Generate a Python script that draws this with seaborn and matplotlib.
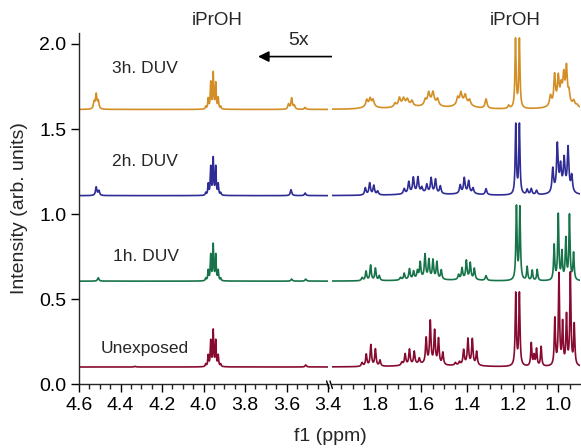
import numpy as np
import pandas as pd
import matplotlib
matplotlib.use("Agg")
import matplotlib.pyplot as plt
from matplotlib.lines import Line2D
import seaborn as sns

# ---------------- data ----------------
series_names = ["Unexposed", "1h. DUV", "2h. DUV", "3h. DUV"]
series_colors = ["#870b30", "#17744a", "#2f2c95", "#d38f26"]
offsets = [0.100, 0.605, 1.108, 1.615]

# peaks: (ppm, height above baseline, half-width) ; left region shown 5x
unexposed_peaks = [
    (4.330, 0.004, 0.004),
    (3.989, 0.015, 0.0025), (3.977, 0.065, 0.0025), (3.965, 0.150, 0.0025),
    (3.953, 0.210, 0.0025), (3.941, 0.150, 0.0025), (3.929, 0.065, 0.0025),
    (3.917, 0.015, 0.0025), (3.507, 0.012, 0.004),
    (1.858, 0.022, 0.004), (1.840, 0.070, 0.0035), (1.820, 0.125, 0.0035),
    (1.800, 0.100, 0.0035), (1.780, 0.035, 0.0035),
    (1.684, 0.018, 0.004), (1.670, 0.065, 0.0035), (1.651, 0.090, 0.0035),
    (1.630, 0.075, 0.0035), (1.608, 0.032, 0.0035),
    (1.578, 0.150, 0.0035), (1.560, 0.250, 0.0035), (1.541, 0.195, 0.0035),
    (1.524, 0.150, 0.0035), (1.505, 0.072, 0.0035),
    (1.450, 0.015, 0.004), (1.432, 0.018, 0.0035), (1.414, 0.085, 0.0035),
    (1.395, 0.150, 0.0035), (1.376, 0.150, 0.0035), (1.357, 0.080, 0.0035),
    (1.186, 0.425, 0.003), (1.170, 0.425, 0.003),
    (1.118, 0.135, 0.003), (1.106, 0.060, 0.003), (1.095, 0.100, 0.003),
    (1.075, 0.115, 0.003),
    (1.015, 0.275, 0.003), (0.997, 0.535, 0.003), (0.981, 0.245, 0.003),
    (0.964, 0.290, 0.003), (0.947, 0.540, 0.003), (0.930, 0.240, 0.003),
    (1.600, 0.015, 0.080), (1.400, 0.010, 0.050),
]
h1_peaks = [
    (4.507, 0.020, 0.004),
    (3.989, 0.015, 0.0025), (3.977, 0.060, 0.0025), (3.965, 0.150, 0.0025),
    (3.953, 0.210, 0.0025), (3.941, 0.150, 0.0025), (3.929, 0.060, 0.0025),
    (3.917, 0.015, 0.0025), (3.575, 0.012, 0.004), (3.507, 0.012, 0.004),
    (1.858, 0.018, 0.004), (1.841, 0.055, 0.0035), (1.821, 0.090, 0.0035),
    (1.800, 0.072, 0.0035), (1.783, 0.028, 0.0035),
    (1.690, 0.015, 0.004), (1.674, 0.038, 0.0035), (1.651, 0.062, 0.0035),
    (1.633, 0.045, 0.0035), (1.616, 0.045, 0.0035), (1.604, 0.095, 0.0035),
    (1.583, 0.140, 0.0035), (1.566, 0.110, 0.0035), (1.548, 0.110, 0.0035),
    (1.531, 0.100, 0.0035), (1.512, 0.055, 0.0035),
    (1.436, 0.028, 0.0035), (1.421, 0.065, 0.0035), (1.402, 0.108, 0.0035),
    (1.385, 0.095, 0.0035), (1.367, 0.065, 0.0035),
    (1.316, 0.028, 0.004),
    (1.183, 0.430, 0.003), (1.168, 0.425, 0.003),
    (1.136, 0.080, 0.003), (1.114, 0.060, 0.003), (1.092, 0.065, 0.003),
    (1.018, 0.205, 0.003), (1.000, 0.385, 0.003), (0.984, 0.160, 0.003),
    (0.967, 0.240, 0.003), (0.951, 0.380, 0.003), (0.933, 0.158, 0.003),
    (1.590, 0.012, 0.080), (1.400, 0.008, 0.050),
]
h2_peaks = [
    (4.517, 0.050, 0.004), (4.504, 0.028, 0.004),
    (3.989, 0.015, 0.0025), (3.977, 0.065, 0.0025), (3.965, 0.165, 0.0025),
    (3.953, 0.215, 0.0025), (3.941, 0.165, 0.0025), (3.929, 0.065, 0.0025),
    (3.917, 0.015, 0.0025), (3.578, 0.035, 0.004), (3.510, 0.015, 0.004),
    (1.844, 0.042, 0.004), (1.825, 0.070, 0.004), (1.807, 0.055, 0.004),
    (1.790, 0.022, 0.004),
    (1.674, 0.030, 0.004), (1.654, 0.068, 0.004), (1.634, 0.090, 0.004),
    (1.614, 0.090, 0.004), (1.597, 0.030, 0.004), (1.575, 0.048, 0.004),
    (1.556, 0.088, 0.004), (1.537, 0.082, 0.004), (1.516, 0.045, 0.004),
    (1.429, 0.048, 0.004), (1.411, 0.088, 0.004), (1.392, 0.070, 0.004),
    (1.373, 0.032, 0.004),
    (1.316, 0.035, 0.004),
    (1.186, 0.410, 0.003), (1.170, 0.410, 0.003),
    (1.136, 0.030, 0.004), (1.118, 0.035, 0.004), (1.095, 0.025, 0.004),
    (1.024, 0.140, 0.004), (1.004, 0.270, 0.004), (0.990, 0.130, 0.004),
    (0.974, 0.170, 0.004), (0.957, 0.250, 0.004), (0.941, 0.095, 0.004),
    (1.600, 0.015, 0.080), (1.400, 0.012, 0.050), (0.980, 0.040, 0.030),
]
h3_peaks = [
    (4.527, 0.040, 0.004), (4.517, 0.085, 0.004), (4.507, 0.045, 0.004),
    (3.989, 0.015, 0.0025), (3.977, 0.060, 0.0025), (3.965, 0.155, 0.0025),
    (3.953, 0.210, 0.0025), (3.941, 0.150, 0.0025), (3.929, 0.065, 0.0025),
    (3.917, 0.015, 0.0025),
    (3.590, 0.030, 0.004), (3.575, 0.065, 0.004), (3.562, 0.022, 0.004),
    (3.510, 0.012, 0.004),
    (1.838, 0.038, 0.005), (1.823, 0.042, 0.005), (1.810, 0.038, 0.005),
    (1.714, 0.020, 0.005), (1.695, 0.045, 0.005), (1.677, 0.035, 0.005),
    (1.660, 0.030, 0.005), (1.640, 0.028, 0.005),
    (1.582, 0.030, 0.005), (1.567, 0.058, 0.005), (1.548, 0.058, 0.005),
    (1.528, 0.035, 0.005),
    (1.440, 0.040, 0.005), (1.426, 0.058, 0.005), (1.407, 0.045, 0.005),
    (1.388, 0.030, 0.005),
    (1.316, 0.055, 0.005), (1.217, 0.018, 0.004),
    (1.187, 0.405, 0.003), (1.170, 0.405, 0.003),
    (1.034, 0.060, 0.005), (1.016, 0.170, 0.004), (1.000, 0.140, 0.004),
    (0.987, 0.070, 0.004), (0.976, 0.130, 0.004), (0.964, 0.190, 0.004),
    (0.953, 0.060, 0.004), (0.932, 0.030, 0.005), (0.918, 0.012, 0.005),
    (1.825, 0.018, 0.030), (1.670, 0.028, 0.040), (1.555, 0.040, 0.030),
    (1.415, 0.040, 0.035), (0.980, 0.070, 0.030),
]
all_peaks = [unexposed_peaks, h1_peaks, h2_peaks, h3_peaks]

left_range = (4.6, 3.4)
right_range = (1.99, 0.905)
left_ticks = [4.6, 4.4, 4.2, 4.0, 3.8, 3.6, 3.4]
right_ticks = [1.8, 1.6, 1.4, 1.2, 1.0]
y_ticks = [0.0, 0.5, 1.0, 1.5, 2.0]


def spectrum(ppm, peaks, base):
    y = np.full_like(ppm, base)
    for p0, h, w in peaks:
        y += h / (1.0 + ((ppm - p0) / w) ** 2)
    return y


def build(lo, hi):
    ppm = np.arange(hi, lo + 1e-9, 0.0005)
    frames = []
    for name, peaks, base in zip(series_names, all_peaks, offsets):
        frames.append(pd.DataFrame({"ppm": ppm,
                                    "intensity": spectrum(ppm, peaks, base),
                                    "series": name}))
    return pd.concat(frames, ignore_index=True)


df_left = build(*left_range)
df_right = build(*right_range)

# ---------------- figure ----------------
sns.set_style("ticks")
plt.rcParams["font.family"] = ["Liberation Sans", "DejaVu Sans"]
plt.rcParams["axes.linewidth"] = 1.0

W, H = 581, 448
fig = plt.figure(figsize=(W / 100, H / 100), dpi=100)
ytop = (384 - 33) / 170.0
axL = fig.add_axes([79 / W, 64 / H, (328 - 79) / W, 351 / H])
axR = fig.add_axes([332 / W, 64 / H, (580 - 332) / W, 351 / H])

palette = dict(zip(series_names, series_colors))
for ax, df in ((axL, df_left), (axR, df_right)):
    sns.lineplot(data=df, x="ppm", y="intensity", hue="series",
                 palette=palette, estimator=None, legend=False,
                 linewidth=1.2, ax=ax)
    ax.set_ylim(0, ytop)
    ax.set_xlabel("")
    ax.set_ylabel("")
    for s in ("top", "right"):
        ax.spines[s].set_visible(False)
    ax.tick_params(axis="both", which="major", direction="out", length=6,
                   width=1.0, labelsize=14, colors="black", pad=3)
    ax.tick_params(axis="x", which="minor", direction="out", length=3.5,
                   width=1.0)

axL.set_xlim(*left_range)
axL.set_xticks(left_ticks)
axL.set_xticks(np.arange(4.6, 3.399, -0.05), minor=True)
axL.set_xticklabels([f"{t:.1f}" for t in left_ticks])
axL.set_yticks(y_ticks)
axL.set_yticklabels([f"{t:.1f}" for t in y_ticks])
axL.set_ylabel("Intensity (arb. units)", fontsize=14, labelpad=8)

axR.set_xlim(*right_range)
axR.set_xticks(right_ticks)
axR.set_xticks(np.arange(1.95, 0.9, -0.05), minor=True)
axR.set_xticklabels([f"{t:.1f}" for t in right_ticks])
axR.spines["left"].set_visible(False)
axR.set_yticks([])

# break marks
for xb in (327.8, 331.2):
    fig.add_artist(Line2D([(xb - 1.2) / W, (xb + 1.2) / W],
                          [(448 - 381) / H, (448 - 388.5) / H],
                          transform=fig.transFigure, color="black", lw=1.0))

fig.text(330 / W, 1 - 436 / H, "f1 (ppm)", ha="center", va="center",
         fontsize=14)

# annotations
axL.text(3.933, 2.137, "iPrOH", ha="center", va="center", fontsize=13.5,
         clip_on=False)
axR.text(1.187, 2.137, "iPrOH", ha="center", va="center", fontsize=13.5,
         clip_on=False)
axL.text(3.54, 2.018, "5x", ha="center", va="center", fontsize=14)
axL.annotate("", xy=(3.737, 1.926), xytext=(3.366, 1.926),
             annotation_clip=False,
             arrowprops=dict(arrowstyle="-|>", color="black", lw=1.2,
                             mutation_scale=16, shrinkA=0, shrinkB=0))

label_pos = [(4.282, 0.21), (4.277, 0.749), (4.282, 1.308), (4.282, 1.857)]
for name, (px, py) in zip(series_names, label_pos):
    axL.text(px, py, name, ha="center", va="center", fontsize=12.5)

fig.savefig("out.png", dpi=100)
